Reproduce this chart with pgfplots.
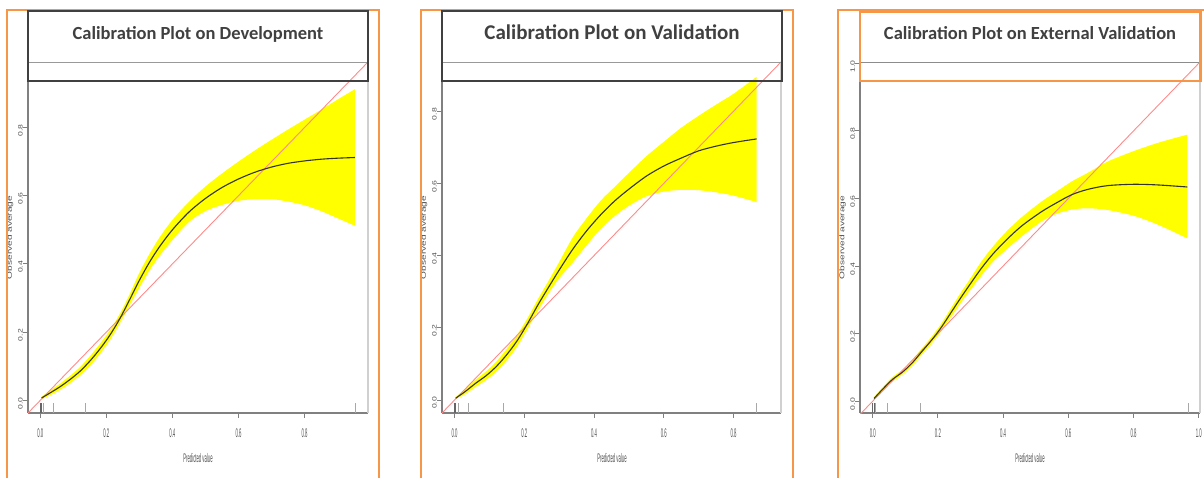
\documentclass[border=0pt]{standalone}
\usepackage{graphicx}
\usepackage{pgfplots}
\pgfplotsset{compat=1.18}
\usepackage{pgfplotstable}
\usepgfplotslibrary{fillbetween}
\usepackage{fontspec}
\setmainfont{Liberation Sans}
\newfontfamily\titlefont{Carlito}

\definecolor{frameor}{HTML}{F79646}
\definecolor{titlegray}{HTML}{404040}
\definecolor{diagred}{HTML}{FF8A8A}
\definecolor{bandyel}{HTML}{FFFF00}
\definecolor{axgray}{HTML}{808080}
\definecolor{labgray}{HTML}{505050}
\definecolor{rightgray}{HTML}{D0D0D0}
\definecolor{ruggray}{HTML}{A8A8A8}

\newcommand{\hx}[1]{\scalebox{0.34}[1]{\fontsize{12.5}{13}\selectfont\color{labgray}#1}}
\newcommand{\vy}[1]{\scalebox{0.75}[0.55]{\fontsize{11.5}{12}\selectfont\color{labgray}#1}}

\pgfplotstableread{
x lo mid hi
0.004 0.003 0.007 0.011
0.03 0.015 0.022 0.029
0.06 0.031 0.040 0.049
0.09 0.050 0.061 0.072
0.12 0.073 0.085 0.097
0.15 0.101 0.115 0.129
0.18 0.135 0.150 0.165
0.21 0.176 0.190 0.204
0.24 0.224 0.238 0.252
0.27 0.278 0.294 0.310
0.30 0.330 0.352 0.374
0.33 0.380 0.404 0.428
0.36 0.422 0.449 0.476
0.40 0.470 0.500 0.529
0.45 0.523 0.552 0.582
0.50 0.555 0.592 0.627
0.55 0.573 0.624 0.665
0.60 0.585 0.649 0.700
0.65 0.590 0.669 0.733
0.70 0.590 0.684 0.764
0.75 0.583 0.695 0.794
0.80 0.572 0.702 0.823
0.85 0.555 0.707 0.852
0.90 0.534 0.710 0.882
0.952 0.512 0.712 0.912
}\devtab

\pgfplotstableread{
x lo mid hi
0.003 0.002 0.005 0.008
0.03 0.016 0.023 0.030
0.06 0.036 0.046 0.056
0.09 0.055 0.067 0.079
0.12 0.079 0.093 0.107
0.15 0.110 0.126 0.142
0.18 0.149 0.165 0.181
0.21 0.198 0.213 0.228
0.24 0.249 0.265 0.281
0.27 0.296 0.313 0.331
0.30 0.337 0.360 0.382
0.34 0.382 0.419 0.452
0.38 0.430 0.470 0.505
0.42 0.475 0.514 0.553
0.46 0.510 0.552 0.591
0.50 0.538 0.584 0.629
0.55 0.564 0.620 0.675
0.60 0.577 0.648 0.715
0.65 0.582 0.670 0.754
0.70 0.581 0.690 0.787
0.75 0.575 0.703 0.818
0.80 0.566 0.713 0.848
0.866 0.548 0.723 0.895
}\valtab

\pgfplotstableread{
x lo mid hi
0.004 0.004 0.008 0.012
0.03 0.029 0.035 0.041
0.06 0.057 0.064 0.071
0.09 0.078 0.085 0.092
0.12 0.104 0.112 0.120
0.15 0.137 0.146 0.155
0.18 0.170 0.180 0.190
0.21 0.207 0.218 0.229
0.24 0.249 0.262 0.275
0.27 0.291 0.306 0.321
0.30 0.330 0.348 0.364
0.333 0.371 0.393 0.413
0.37 0.414 0.437 0.459
0.415 0.453 0.482 0.507
0.46 0.490 0.521 0.547
0.518 0.532 0.561 0.591
0.56 0.553 0.585 0.618
0.61 0.567 0.611 0.650
0.66 0.571 0.627 0.676
0.72 0.566 0.638 0.709
0.80 0.549 0.642 0.740
0.876 0.522 0.640 0.765
0.965 0.482 0.634 0.789
}\exttab

\pgfplotsset{
  calib/.style={
    scale only axis, anchor=south west, height=351pt,
    axis x line*=bottom, axis y line*=left,
    axis line style={-, draw=axgray, line width=1.3pt},
    tick align=outside, major tick length=5pt,
    tick style={draw=axgray, line width=0.9pt},
    xticklabel style={anchor=north, inner sep=0pt, yshift=-10.5pt},
    yticklabel style={rotate=90, anchor=south, inner sep=0pt, xshift=-3pt},
  },
  band/.style={fill=bandyel, draw=none},
  midcurve/.style={draw=black!80, line width=1.1pt, smooth},
  diag/.style={draw=diagred, line width=0.9pt},
  rug/.style={only marks, mark=|, mark size=5pt, mark options={draw=ruggray, line width=0.9pt, yshift=5pt}},
  rugdark/.style={only marks, mark=|, mark size=5pt, mark options={draw=black!60, line width=0.8pt, yshift=5pt}},
}

\begin{document}
\begin{tikzpicture}

% ---------- Panel 1 ----------
\begin{axis}[calib, at={(28pt,64pt)}, width=340pt,
  xmin=-0.037, xmax=0.992, ymin=-0.037, ymax=0.992,
  xtick={0,0.2,0.4,0.6,0.8}, ytick={0,0.2,0.4,0.6,0.8},
  xticklabels={\hx{0.0},\hx{0.2},\hx{0.4},\hx{0.6},\hx{0.8}},
  yticklabels={\vy{0.0},\vy{0.2},\vy{0.4},\vy{0.6},\vy{0.8}}]
\addplot[name path=up, draw=none, smooth] table[x=x,y=hi]{\devtab};
\addplot[name path=lo, draw=none, smooth] table[x=x,y=lo]{\devtab};
\addplot[band] fill between[of=up and lo];
\addplot[diag] coordinates {(-0.1,-0.1) (1.1,1.1)};
\addplot[midcurve] table[x=x,y=mid]{\devtab};
\addplot[rug] coordinates {(0.01,-0.037) (0.039,-0.037) (0.136,-0.037) (0.954,-0.037)};
\addplot[rugdark] coordinates {(0,-0.037) (0.004,-0.037)};
\end{axis}

% ---------- Panel 2 ----------
\begin{axis}[calib, at={(442pt,64pt)}, width=339pt,
  xmin=-0.036, xmax=0.936, ymin=-0.036, ymax=0.936,
  xtick={0,0.2,0.4,0.6,0.8}, ytick={0,0.2,0.4,0.6,0.8},
  xticklabels={\hx{0.0},\hx{0.2},\hx{0.4},\hx{0.6},\hx{0.8}},
  yticklabels={\vy{0.0},\vy{0.2},\vy{0.4},\vy{0.6},\vy{0.8}}]
\addplot[name path=up, draw=none, smooth] table[x=x,y=hi]{\valtab};
\addplot[name path=lo, draw=none, smooth] table[x=x,y=lo]{\valtab};
\addplot[band] fill between[of=up and lo];
\addplot[diag] coordinates {(-0.1,-0.1) (1.1,1.1)};
\addplot[midcurve] table[x=x,y=mid]{\valtab};
\addplot[rug] coordinates {(0.01,-0.036) (0.040,-0.036) (0.139,-0.036) (0.866,-0.036)};
\addplot[rugdark] coordinates {(0,-0.036) (0.003,-0.036)};
\end{axis}

% ---------- Panel 3 ----------
\begin{axis}[calib, at={(860pt,64pt)}, width=340pt,
  xmin=-0.039, xmax=1.004, ymin=-0.035, ymax=1.004,
  xtick={0,0.2,0.4,0.6,0.8,1.0}, ytick={0,0.2,0.4,0.6,0.8,1.0},
  xticklabels={\hx{0.0},\hx{0.2},\hx{0.4},\hx{0.6},\hx{0.8},\hx{1.0}},
  yticklabels={\vy{0.0},\vy{0.2},\vy{0.4},\vy{0.6},\vy{0.8},\vy{1.0}}]
\addplot[name path=up, draw=none, smooth] table[x=x,y=hi]{\exttab};
\addplot[name path=lo, draw=none, smooth] table[x=x,y=lo]{\exttab};
\addplot[band] fill between[of=up and lo];
\addplot[diag] coordinates {(-0.1,-0.1) (1.1,1.1)};
\addplot[midcurve] table[x=x,y=mid]{\exttab};
\addplot[rug] coordinates {(0.008,-0.035) (0.044,-0.035) (0.147,-0.035) (0.968,-0.035)};
\addplot[rugdark] coordinates {(0,-0.035) (0.004,-0.035)};
\end{axis}

\begin{scope}[x=1pt,y=1pt]
% right and top frame lines
\draw[rightgray, line width=1.2pt] (368,64) -- (368,415);
\draw[rightgray, line width=1.2pt] (781,64) -- (781,415);
\draw[rightgray, line width=1.2pt] (1200,64) -- (1200,415);
\draw[gray!80, line width=0.9pt] (28,415) -- (368,415);
\draw[gray!80, line width=0.9pt] (442,415) -- (781,415);
\draw[gray!90, line width=0.9pt] (860,415) -- (1200,415);

% axis labels
\foreach \cx in {198,612,1030} {
  \node[inner sep=0pt] at (\cx,18.5) {\hx{Predicted value}};
}
\foreach \cx in {10,424,842.5} {
  \node[inner sep=0pt, rotate=90] at (\cx,239.5) {\scalebox{0.88}[0.6]{\fontsize{11.5}{12}\selectfont\color{labgray}Observed average}};
}

% outer orange frames
\draw[frameor, line width=2.2pt] (7,-5) -- (7,467) -- (379,467) -- (379,-5);
\draw[frameor, line width=2.2pt] (421,-5) -- (421,467) -- (793,467) -- (793,-5);
\draw[frameor, line width=2.2pt] (838,-5) -- (838,467) -- (1210,467);

% title boxes
\draw[titlegray, line width=2pt] (28,396) rectangle (368,466.3);
\draw[titlegray, line width=2pt] (442,396) rectangle (782,466.3);
\draw[frameor, line width=2.4pt] (860,396) rectangle (1200.5,465.5);

\node[anchor=base, inner sep=0pt, text=titlegray] at (198,437) {\titlefont\bfseries\fontsize{18.5}{20}\selectfont Calibration Plot on Development};
\node[anchor=base, inner sep=0pt, text=titlegray] at (612,437) {\titlefont\bfseries\fontsize{21}{23}\selectfont Calibration Plot on Validation};
\node[anchor=base, inner sep=0pt, text=titlegray] at (1030,437) {\titlefont\bfseries\fontsize{18.5}{20}\selectfont Calibration Plot on External Validation};
\end{scope}
\pgfresetboundingbox
\path[use as bounding box] (0pt,0pt) rectangle (1204pt,477pt);
\end{tikzpicture}
\end{document}
